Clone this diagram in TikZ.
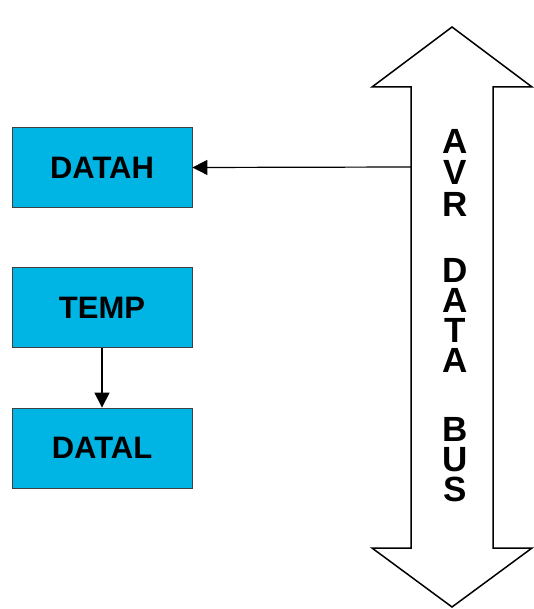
\documentclass[tikz,border=0pt]{standalone}
\usepackage{fontspec}
\setmainfont{Liberation Sans}
\usetikzlibrary{arrows.meta}
\definecolor{boxcyan}{HTML}{00B4E4}
\begin{document}
\begin{tikzpicture}[x=1pt,y=-1pt,
  reg/.style={draw=black!75, line width=0.8pt, fill=boxcyan, minimum width=180pt, minimum height=80pt, inner sep=0pt, font=\fontsize{31}{31}\selectfont\bfseries},
  buslabel/.style={font=\fontsize{35}{30}\selectfont\bfseries, inner sep=0pt, align=center, anchor=north},
  busshape/.style={draw=black, line width=1.5pt, line join=miter, fill=white},
  conn/.style={draw=black, line width=1.2pt, -{Triangle[length=15pt,width=15pt]}}]
\useasboundingbox (0,0) rectangle (534,609);
% bus double arrow
\draw[busshape] (452,27) -- (532,87) -- (493,87) -- (493,548) -- (532,548) -- (452,607)
  -- (372,548) -- (411,548) -- (411,87) -- (372,87) -- cycle;
\coordinate (busin) at (411,167);
% registers
\node[reg] (datah) at (102,167.5) {DATAH};
\node[reg] (temp) at (102,307.5) {TEMP};
\node[reg] (datal) at (102,448) {DATAL};
% connectors
\draw[conn] (busin) -- (datah.east);
\draw[conn] (temp.south) -- (datal.north);
% bus label
\node[buslabel] (bus) at (455,129.5) {A\\[1pt]V\\[2pt]R\\[36pt]D\\A\\T\\A\\[39pt]B\\U\\S};
\end{tikzpicture}
\end{document}
